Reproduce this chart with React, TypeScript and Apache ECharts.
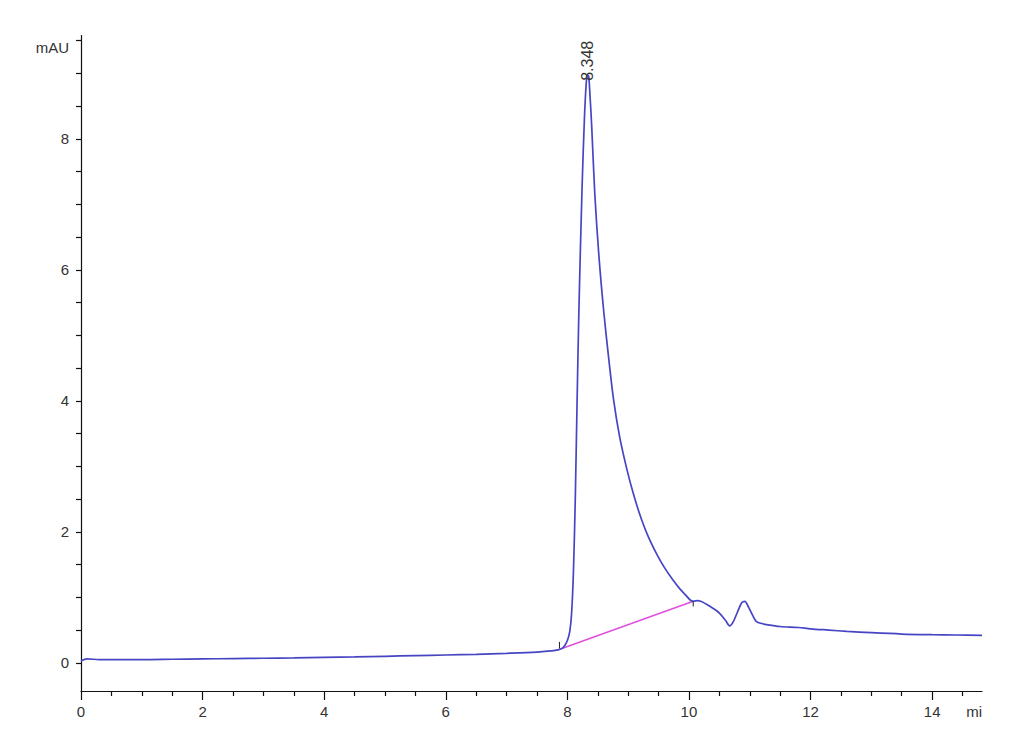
import React, { useEffect, useRef } from "react";
import * as echarts from "echarts";

// Chromatogram signal (time in min, absorbance in mAU)
const timeMin = [
  0, 0.1, 0.3, 0.5, 1, 1.5, 2, 2.5, 3, 3.5, 4, 4.5, 5, 5.5, 6, 6.5, 7, 7.5, 7.8,
  7.91, 7.96, 8.0, 8.04, 8.07, 8.1, 8.13, 8.16, 8.19, 8.24, 8.28, 8.31, 8.33, 8.35,
  8.37, 8.4, 8.45, 8.52, 8.6, 8.68, 8.76, 8.86, 8.98, 9.08, 9.19, 9.32, 9.47, 9.6,
  9.74, 9.85, 9.95, 10.02, 10.07, 10.15, 10.28, 10.4, 10.5, 10.6, 10.67, 10.73, 10.8,
  10.87, 10.92, 10.98, 11.05, 11.11, 11.2, 11.3, 11.5, 11.8, 12.0, 12.3, 12.6, 13.0,
  13.5, 14.0, 14.4, 14.82,
];
const signalMAU = [
  0.03, 0.06, 0.05, 0.05, 0.05, 0.055, 0.06, 0.065, 0.07, 0.075, 0.085, 0.09, 0.1,
  0.11, 0.12, 0.13, 0.145, 0.165, 0.19,
  0.22, 0.27, 0.34, 0.48, 0.76, 1.4, 2.5, 4.0, 5.4, 7.2, 8.3, 8.85, 8.98, 8.96,
  8.7, 8.2, 7.18, 6.2, 5.35, 4.65, 4.02, 3.45, 2.95, 2.6, 2.27, 1.95, 1.66, 1.45,
  1.26, 1.13, 1.03, 0.96, 0.94, 0.95, 0.9, 0.83, 0.76, 0.65, 0.565, 0.63, 0.78,
  0.92, 0.94, 0.85, 0.72, 0.63, 0.6, 0.58, 0.555, 0.54, 0.52, 0.5, 0.48, 0.46,
  0.44, 0.43, 0.425, 0.42,
];

// Integration baseline of the main peak
const baselineTime = [7.91, 10.07];
const baselineMAU = [0.22, 0.94];

// Peak annotation
const peakTime = 8.348;
const peakHeight = 8.98;
const peakLabel = "8.348";

// Axis ticks / labels
const xMajorTicks = [0, 2, 4, 6, 8, 10, 12, 14];
const xLabelValues = [0, 2, 4, 6, 8, 10, 12, 14, 14.82];
const yTicks = [0, 0.5, 1, 1.5, 2, 2.5, 3, 3.5, 4, 4.5, 5, 5.5, 6, 6.5, 7, 7.5, 8, 8.5, 9, 9.5];
const yLabelValues = [0, 2, 4, 6, 8, 9.5];
const xMin = 0;
const xMax = 14.82;
const yMin = -0.43;
const yMax = 9.58;
const xUnitLabel = "mi";
const yUnitLabel = "mAU";

const FONT = "'Liberation Sans', Arial, sans-serif";

export default function App() {
  const ref = useRef<HTMLDivElement>(null);
  useEffect(() => {
    if (!ref.current) return;
    const chart = echarts.init(ref.current, null, { renderer: "svg" });
    const signal = timeMin.map((t, i) => [t, signalMAU[i]]);
    const baseline = baselineTime.map((t, i) => [t, baselineMAU[i]]);
    const startMark = [
      [baselineTime[0] - 0.04, baselineMAU[0]],
      [baselineTime[0] - 0.04, baselineMAU[0] + 0.1],
    ];
    const endMark = [
      [baselineTime[1], baselineMAU[1]],
      [baselineTime[1], baselineMAU[1] - 0.08],
    ];
    const axisColor = "#111";
    chart.setOption({
      animation: false,
      backgroundColor: "#ffffff",
      grid: { left: 81, right: 48, top: 35.5, bottom: 64, containLabel: false },
      xAxis: {
        type: "value",
        min: xMin,
        max: xMax,
        interval: 2,
        axisLine: { show: true, onZero: false, lineStyle: { color: axisColor, width: 1.2 } },
        axisTick: { show: true, length: 9, customValues: xMajorTicks, lineStyle: { color: axisColor, width: 1.2 } },
        minorTick: { show: true, splitNumber: 4, length: 5, lineStyle: { color: axisColor, width: 1.2 } },
        axisLabel: {
          show: true,
          customValues: xLabelValues,
          margin: 13,
          fontFamily: FONT,
          fontSize: 15,
          color: "#333",
          formatter: (v: number) => (v === xMax ? xUnitLabel : String(v)),
          alignMaxLabel: "right",
        },
        splitLine: { show: false },
        minorSplitLine: { show: false },
      },
      yAxis: {
        type: "value",
        min: yMin,
        max: yMax,
        axisLine: { show: true, onZero: false, lineStyle: { color: axisColor, width: 1.2 } },
        axisTick: { show: true, length: 5, customValues: yTicks, lineStyle: { color: axisColor, width: 1.2 } },
        axisLabel: {
          show: true,
          customValues: yLabelValues,
          margin: 12,
          fontFamily: FONT,
          fontSize: 15,
          color: "#333",
          formatter: (v: number) => (v === 9.5 ? "{u|" + yUnitLabel + "}" : String(v)),
          rich: {
            u: { fontFamily: FONT, fontSize: 15, color: "#333", padding: [14, 0, 0, 0] },
          },
        },
        splitLine: { show: false },
      },
      series: [
        {
          type: "line",
          data: baseline,
          symbol: "none",
          lineStyle: { color: "#e050e0", width: 1.6 },
          z: 2,
        },
        {
          type: "line",
          data: signal,
          symbol: "none",
          smooth: 0.3,
          lineStyle: { color: "#4646c4", width: 1.7 },
          z: 3,
          markPoint: {
            symbol: "circle",
            symbolSize: 0,
            data: [{ coord: [peakTime, peakHeight] }],
            label: {
              show: true,
              position: "inside",
              formatter: peakLabel,
              rotate: 90,
              align: "left",
              verticalAlign: "middle",
              offset: [-6, -1],
              fontFamily: FONT,
              fontSize: 16,
              color: "#333",
            },
          },
        },
        {
          type: "line",
          data: startMark,
          symbol: "none",
          lineStyle: { color: "#222", width: 1 },
          z: 4,
        },
        {
          type: "line",
          data: endMark,
          symbol: "none",
          lineStyle: { color: "#222", width: 1 },
          z: 4,
        },
      ],
    });
    return () => chart.dispose();
  }, []);
  return (
    <div
      ref={ref}
      style={{ position: "fixed", left: 0, top: 0, width: 1030, height: 755, background: "#fff" }}
    />
  );
}
